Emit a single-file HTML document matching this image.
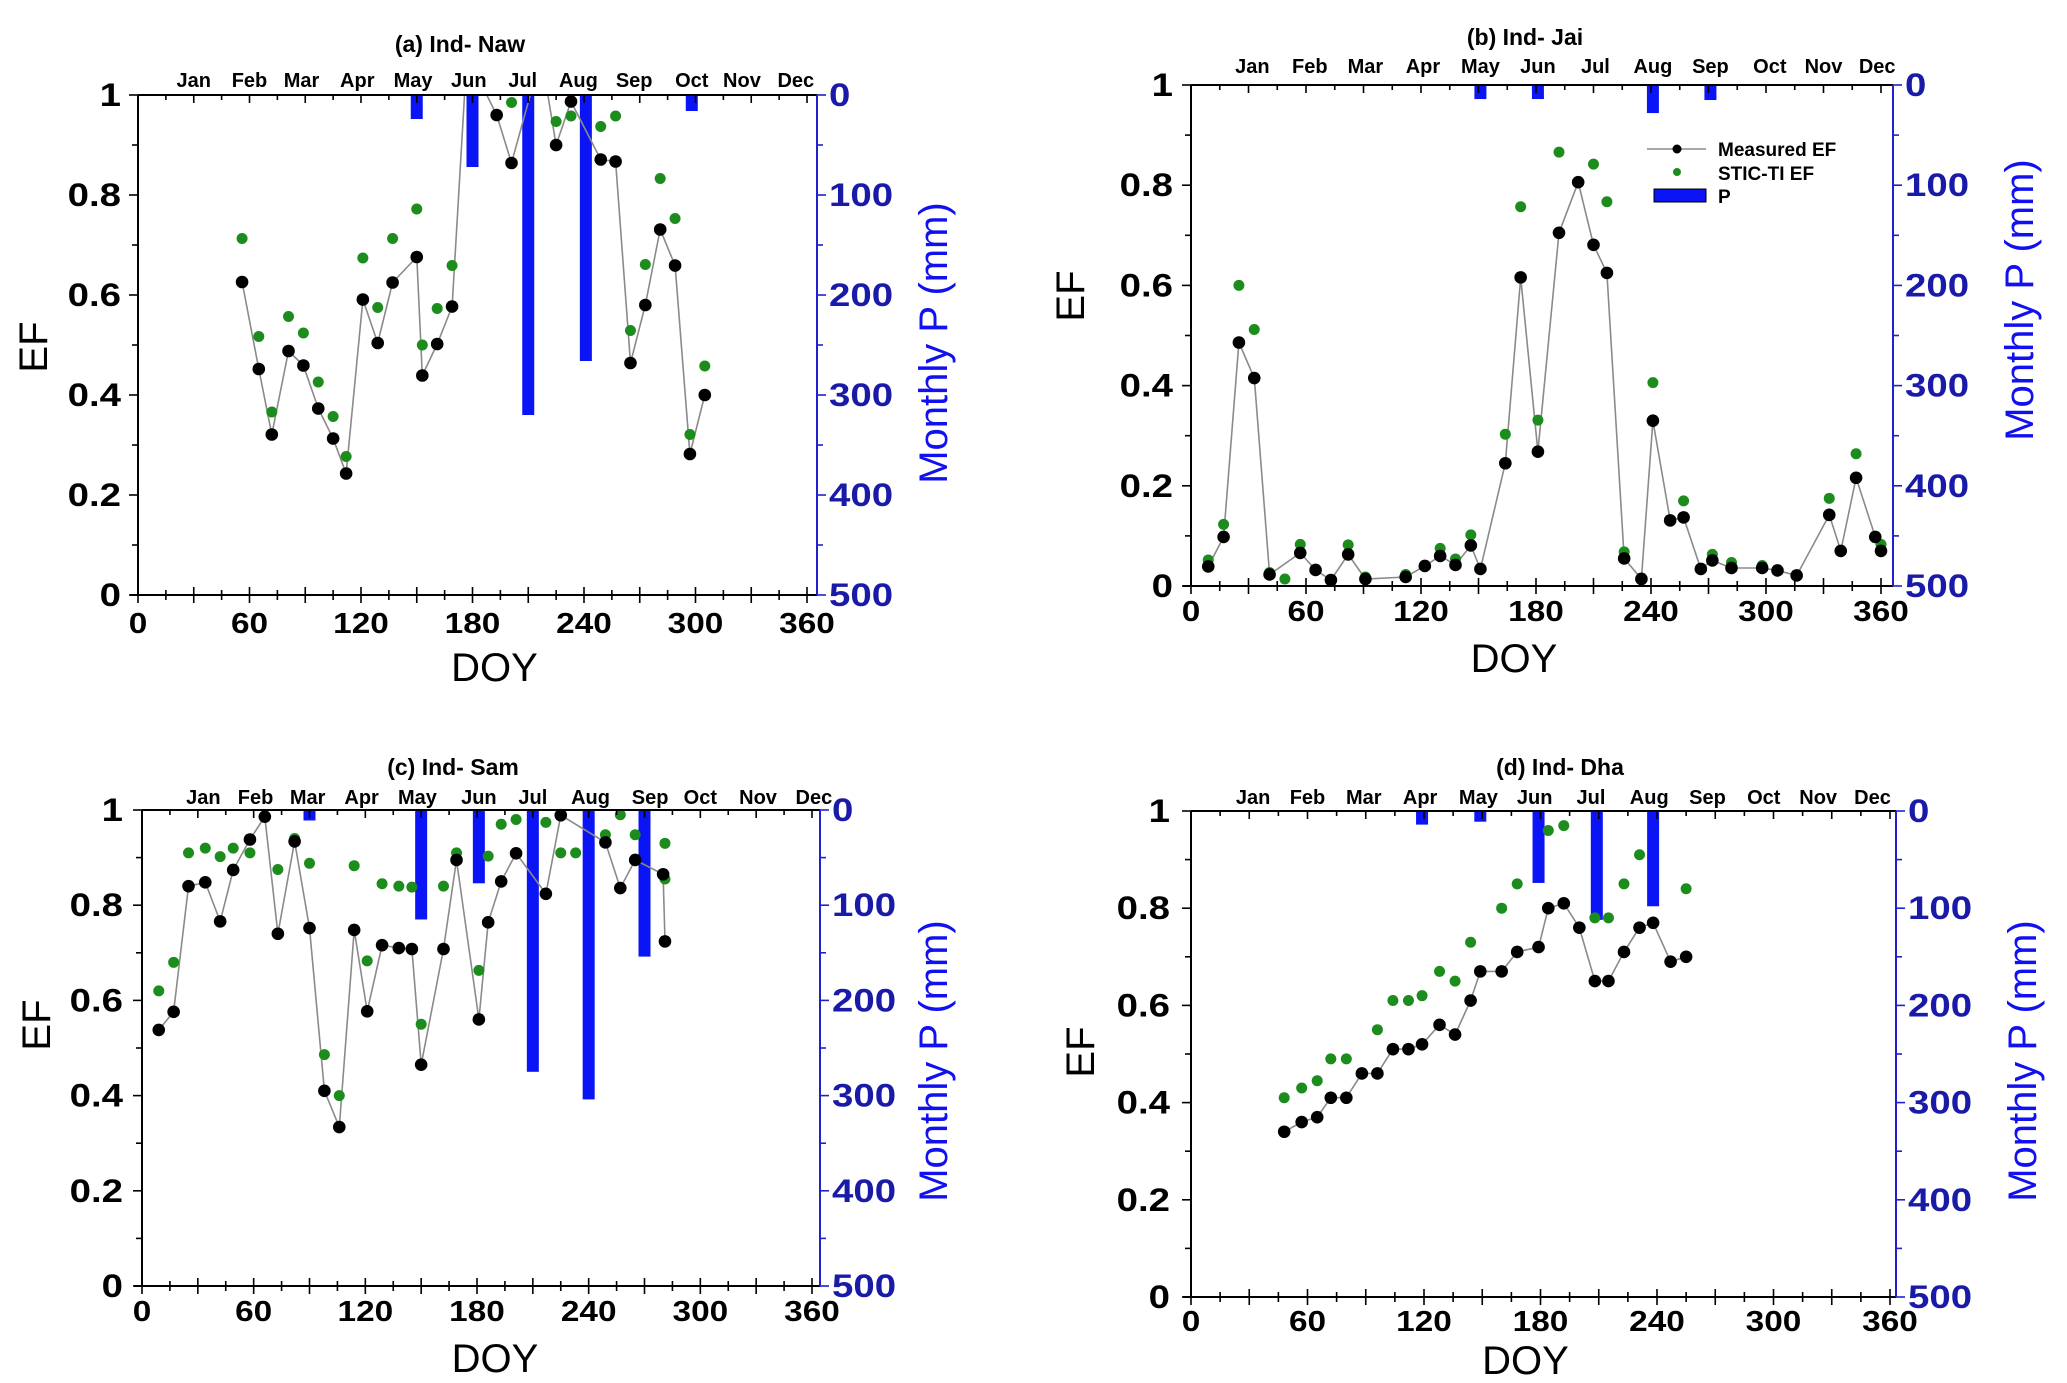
<!DOCTYPE html>
<html><head><meta charset="utf-8"><style>
html,body{margin:0;padding:0;background:#fff;}
svg{display:block;font-family:"Liberation Sans",Arial,sans-serif;}
</style></head><body>
<svg id="chart" width="2067" height="1383" viewBox="0 0 2067 1383" xmlns="http://www.w3.org/2000/svg">
<rect x="0" y="0" width="2067" height="1383" fill="#fff"/>
</svg>
<script>
// ---- Panel (a) Ind-Naw ----
const aMeasDoy = [56,65,72,81,89,97,105,112,121,129,137,150,153,161,169,177,193,201,217,225,233,249,257,265,273,281,289,297,305];
const aMeasEf  = [0.626,0.452,0.321,0.488,0.459,0.373,0.313,0.243,0.591,0.504,0.625,0.676,0.439,0.502,0.577,1.08,0.96,0.864,1.08,0.90,0.987,0.871,0.867,0.464,0.58,0.731,0.659,0.282,0.40];
const aSticDoy = [56,65,72,81,89,97,105,112,121,129,137,150,153,161,169,201,225,233,249,257,265,273,281,289,297,305];
const aSticEf  = [0.713,0.517,0.366,0.557,0.524,0.426,0.357,0.277,0.674,0.575,0.713,0.772,0.50,0.573,0.659,0.985,0.947,0.958,0.937,0.958,0.529,0.661,0.833,0.753,0.321,0.458];
const aRainDoy = [150,180,210,241,298];
const aRainP   = [24,72,320,266,16];
const aMonthDoy = [30,60,88,118,148,178,207,237,267,298,325,354];

// ---- Panel (b) Ind-Jai ----
const bMeasDoy = [9,17,25,33,41,57,65,73,82,91,112,122,130,138,146,151,164,172,181,192,202,210,217,226,235,241,250,257,266,272,282,298,306,316,333,339,347,357,360];
const bMeasEf  = [0.039,0.098,0.486,0.415,0.023,0.066,0.032,0.012,0.063,0.014,0.018,0.04,0.06,0.042,0.081,0.034,0.245,0.616,0.268,0.705,0.806,0.681,0.625,0.055,0.014,0.33,0.131,0.137,0.034,0.051,0.036,0.036,0.031,0.021,0.142,0.07,0.216,0.098,0.07];
const bSticDoy = [9,17,25,33,41,49,57,82,91,112,130,138,146,164,172,181,192,210,217,226,235,241,257,272,282,298,316,333,347,360];
const bSticEf  = [0.052,0.123,0.6,0.512,0.027,0.014,0.083,0.082,0.018,0.023,0.075,0.054,0.102,0.303,0.757,0.331,0.866,0.842,0.767,0.068,0.016,0.406,0.17,0.063,0.047,0.041,0.022,0.175,0.264,0.083];
const bRainDoy = [151,181,241,271];
const bRainP   = [14,14,28,15];
const bMonthDoy = [32,62,91,121,151,181,211,241,271,302,330,358];

// ---- Panel (c) Ind-Sam ----
const cMeasDoy = [9,17,25,34,42,49,58,66,73,82,90,98,106,114,121,129,138,145,150,162,169,181,186,193,201,217,225,249,257,265,280,281];
const cMeasEf  = [0.538,0.576,0.84,0.848,0.766,0.874,0.938,0.986,0.74,0.934,0.752,0.41,0.334,0.748,0.577,0.716,0.71,0.708,0.465,0.708,0.895,0.56,0.764,0.85,0.909,0.824,0.989,0.932,0.836,0.895,0.865,0.724];
const cSticDoy = [9,17,25,34,42,49,58,73,82,90,98,106,114,121,129,138,145,150,162,169,181,186,193,201,217,225,233,249,257,265,281,281];
const cSticEf  = [0.62,0.68,0.91,0.92,0.902,0.92,0.91,0.875,0.94,0.888,0.486,0.4,0.883,0.683,0.845,0.84,0.838,0.55,0.84,0.91,0.663,0.903,0.97,0.98,0.974,0.91,0.91,0.948,0.99,0.948,0.93,0.855];
const cRainDoy = [90,150,181,210,240,270];
const cRainP   = [11,115,77,275,304,154];
const cMonthDoy = [33,61,89,118,148,181,210,241,273,300,331,361];

// ---- Panel (d) Ind-Dha ----
const dMeasDoy = [48,57,65,72,80,88,96,104,112,119,128,136,144,149,160,168,179,184,192,200,208,215,223,231,238,247,255];
const dMeasEf  = [0.34,0.36,0.37,0.41,0.41,0.46,0.46,0.51,0.51,0.52,0.56,0.54,0.61,0.67,0.67,0.71,0.72,0.80,0.81,0.76,0.65,0.65,0.71,0.76,0.77,0.69,0.70];
const dSticDoy = [48,57,65,72,80,96,104,112,119,128,136,144,160,168,184,192,208,215,223,231,255];
const dSticEf  = [0.41,0.43,0.445,0.49,0.49,0.55,0.61,0.61,0.62,0.67,0.65,0.73,0.80,0.85,0.96,0.97,0.78,0.78,0.85,0.91,0.84];
const dRainDoy = [119,149,179,209,238];
const dRainP   = [14,11,74,112,98];
const dMonthDoy = [32,60,89,118,148,177,206,236,266,295,323,351];

const monthNames = ["Jan","Feb","Mar","Apr","May","Jun","Jul","Aug","Sep","Oct","Nov","Dec"];
const doyTicks = [0,60,120,180,240,300,360];
const efTicks = [0,0.2,0.4,0.6,0.8,1];
const efTickLabels = ["0","0.2","0.4","0.6","0.8","1"];
const pTicks = [0,100,200,300,400,500];

const NS = "http://www.w3.org/2000/svg";
const svg = document.getElementById("chart");
function mk(tag, attrs, parent){
  const e = document.createElementNS(NS, tag);
  for (const k in attrs) e.setAttribute(k, attrs[k]);
  (parent||svg).appendChild(e);
  return e;
}

function drawPanel(L, meas, stic, rain, monthDoy, key){
  const g = mk("g", {});
  
  
  const xs = d => L.x0 + d*(L.x360-L.x0)/360;
  const ys = v => L.yBot - v*(L.yBot-L.yTop);
  const yp = p => L.yTop + p/500*(L.yBot-L.yTop);
  const clipId = "clip-" + key;
  const cp = mk("clipPath", {id: clipId}, g);
  mk("rect", {x: L.x0, y: L.yTop, width: L.xR-L.x0, height: L.yBot-L.yTop}, cp);

  for (let i=0;i<rain.doy.length;i++){
    const b = mk("rect", {x: xs(rain.doy[i])-6, y: L.yTop, width: 12, height: yp(rain.p[i])-L.yTop, fill:"#0a14f5"}, g);
    
    
  }
  const pts = meas.doy.map((d,i)=> xs(d).toFixed(1)+","+ys(meas.ef[i]).toFixed(1)).join(" ");
  const ln = mk("polyline", {points: pts, fill:"none", stroke:"#8a8a8a", "stroke-width":1.6, "clip-path":"url(#"+clipId+")"}, g);
  
  
  for (let i=0;i<stic.doy.length;i++){
    const c = mk("circle", {cx: xs(stic.doy[i]), cy: ys(stic.ef[i]), r: 5.5, fill:"#1c8c1c"}, g);
    
    
  }
  for (let i=0;i<meas.doy.length;i++){
    if (meas.ef[i] > 1.0) continue;
    const c = mk("circle", {cx: xs(meas.doy[i]), cy: ys(meas.ef[i]), r: 6.3, fill:"#000"}, g);
    
    
  }
  mk("line", {x1:L.x0, y1:L.yTop, x2:L.x0, y2:L.yBot, stroke:"#000","stroke-width":2}, g);
  mk("line", {x1:L.x0-8, y1:L.yBot, x2:L.xR, y2:L.yBot, stroke:"#000","stroke-width":2}, g);
  mk("line", {x1:L.x0, y1:L.yTop, x2:L.xR, y2:L.yTop, stroke:"#000","stroke-width":2}, g);
  mk("line", {x1:L.xR, y1:L.yTop, x2:L.xR, y2:L.yBot, stroke:"#2020d0","stroke-width":2}, g);
  for (let d=0; d<=360; d+=15){
    const big = d%30===0;
    const x = xs(d);
    mk("line", {x1:x, y1:L.yBot-(big?8:5), x2:x, y2:L.yBot+(big?8:5), stroke:"#000","stroke-width":1.6}, g);
    mk("line", {x1:x, y1:L.yTop, x2:x, y2:L.yTop+(big?8:5), stroke:"#000","stroke-width":1.6}, g);
  }
  doyTicks.forEach(d=>{
    const t = mk("text", {x: 0, y: 0, transform:"translate("+xs(d)+","+L.tickY+") scale(1.15,1)", "text-anchor":"middle", "font-size":29, "font-weight":"bold", fill:"#000"}, g);
    t.textContent = d;
    
    
  });
  for (let k=0;k<=10;k++){
    const y = ys(k/10);
    mk("line", {x1:L.x0-(k%2===0?9:6), y1:y, x2:L.x0, y2:y, stroke:"#000","stroke-width":1.6}, g);
  }
  efTicks.forEach((v,i)=>{
    const t = mk("text", {x: 0, y: 0, transform:"translate("+L.leftLabX+","+(ys(v)+11)+") scale(1.2,1)", "text-anchor":"end", "font-size":32, "font-weight":"bold", fill:"#000"}, g);
    t.textContent = efTickLabels[i];
    
    
  });
  for (let p=0;p<=500;p+=50){
    const y = yp(p);
    mk("line", {x1:L.xR, y1:y, x2:L.xR+(p%100===0?9:6), y2:y, stroke:"#2020d0","stroke-width":1.6}, g);
  }
  pTicks.forEach(p=>{
    const t = mk("text", {x: 0, y: 0, transform:"translate("+(L.xR+12)+","+(yp(p)+11)+") scale(1.2,1)", "text-anchor":"start", "font-size":32, "font-weight":"bold", fill:"#1a1aa8"}, g);
    t.textContent = p;
    
    
  });
  monthDoy.forEach((d,i)=>{
    const t = mk("text", {x: xs(d), y: L.monthY, "text-anchor":"middle", "font-size":20, "font-weight":"bold", fill:"#000"}, g);
    t.textContent = monthNames[i];
    
    
  });
  const tt = mk("text", {x: L.titleX, y: L.titleY, "text-anchor":"middle", "font-size":23, "font-weight":"bold", fill:"#000"}, g);
  tt.textContent = L.title;
  
  
  const xt = mk("text", {x: (L.x0+L.x360)/2 + L.doyDx, y: L.doyY, "text-anchor":"middle", "font-size":40, fill:"#000"}, g);
  xt.textContent = "DOY";
  
  
  const et = mk("text", {x: L.efX, y: L.efY, "text-anchor":"middle", "font-size":40, fill:"#000", transform:"rotate(-90 "+L.efX+" "+L.efY+")"}, g);
  et.textContent = "EF";
  
  
  const pt = mk("text", {x: L.pX, y: L.pY, "text-anchor":"middle", "font-size":40, fill:"#1010f0", transform:"rotate(-90 "+L.pX+" "+L.pY+")"}, g);
  pt.textContent = "Monthly P (mm)";
  
  
}

drawPanel({x0:138,x360:807,xR:817,yTop:95,yBot:595,tickY:633,monthY:87,titleX:460,titleY:52,doyY:681,doyDx:22,efX:47,efY:347,pX:947,pY:343,leftLabX:121,title:"(a) Ind- Naw"},
  {doy:aMeasDoy, ef:aMeasEf},{doy:aSticDoy, ef:aSticEf},{doy:aRainDoy,p:aRainP},aMonthDoy,"a");
drawPanel({x0:1191,x360:1881,xR:1893,yTop:85,yBot:586,tickY:621,monthY:73,titleX:1525,titleY:45,doyY:672,doyDx:-22,efX:1084,efY:296,pX:2033,pY:300,leftLabX:1173,title:"(b) Ind- Jai"},
  {doy:bMeasDoy, ef:bMeasEf},{doy:bSticDoy, ef:bSticEf},{doy:bRainDoy,p:bRainP},bMonthDoy,"b");
drawPanel({x0:142,x360:812,xR:820,yTop:810,yBot:1286,tickY:1321,monthY:804,titleX:453,titleY:775,doyY:1372,doyDx:18,efX:50,efY:1025,pX:947,pY:1061,leftLabX:123,title:"(c) Ind- Sam"},
  {doy:cMeasDoy, ef:cMeasEf},{doy:cSticDoy, ef:cSticEf},{doy:cRainDoy,p:cRainP},cMonthDoy,"c");
drawPanel({x0:1191,x360:1890,xR:1896,yTop:811,yBot:1297,tickY:1331,monthY:804,titleX:1560,titleY:775,doyY:1374,doyDx:-15,efX:1094,efY:1052,pX:2036,pY:1061,leftLabX:1170,title:"(d) Ind- Dha"},
  {doy:dMeasDoy, ef:dMeasEf},{doy:dSticDoy, ef:dSticEf},{doy:dRainDoy,p:dRainP},dMonthDoy,"d");

const lg = mk("g", {});


mk("line", {x1:1647,y1:149,x2:1706,y2:149,stroke:"#8a8a8a","stroke-width":1.6}, lg);
mk("circle", {cx:1677,cy:149,r:4.5,fill:"#000"}, lg);
mk("circle", {cx:1677,cy:172,r:4,fill:"#1c8c1c"}, lg);
mk("rect", {x:1654,y:189,width:52,height:13,fill:"#0a14f5",stroke:"#000","stroke-width":1}, lg);
[["Measured EF",156],["STIC-TI EF",180],["P",203]].forEach(([s,y])=>{
  const t = mk("text", {x:1718,y:y,"font-size":19,"font-weight":"bold",fill:"#000"}, lg);
  t.textContent = s;
  
  
});
</script>
</body></html>
